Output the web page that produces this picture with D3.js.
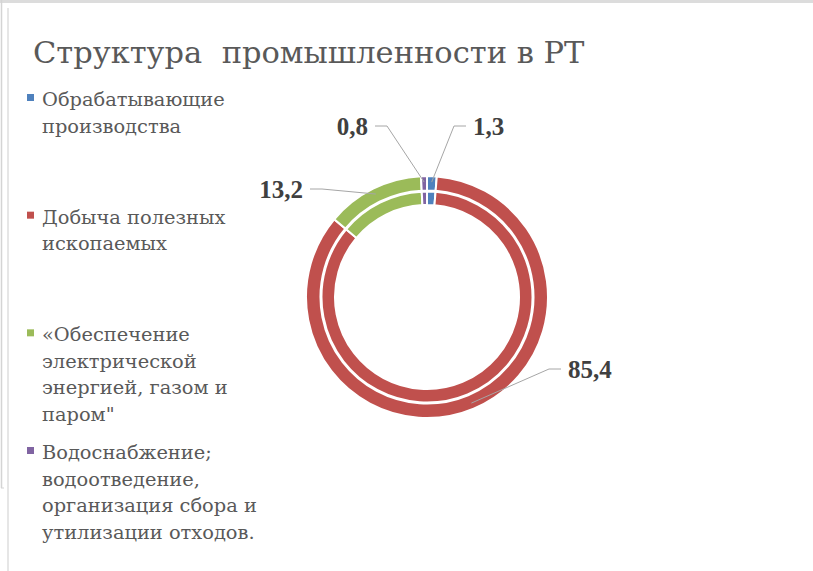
<!DOCTYPE html>
<html>
<head>
<meta charset="utf-8">
<script src="https://cdn.jsdelivr.net/npm/d3@7"></script>
<style>
    body { margin: 0; background: #fff; }
    svg { display: block; }
</style>
</head>
<body>
<div class="chart"></div>
<script>
// ------------------------------------------ data ------------------------------------------
const categories = [
    "Обрабатывающие производства",
    "Добыча полезных ископаемых",
    "«Обеспечение электрической энергией, газом и паром\"",
    "Водоснабжение; водоотведение, организация сбора и утилизации отходов."
];
// legend text wrapped the way the original shows it
const legendLines = [
    ["Обрабатывающие", "производства"],
    ["Добыча полезных", "ископаемых"],
    ["«Обеспечение", "электрической", "энергией, газом и", "паром\""],
    ["Водоснабжение;", "водоотведение,", "организация сбора и", "утилизации отходов."]
];
const values = [1.3, 85.4, 13.2, 0.8];
const valueLabels = ["1,3", "85,4", "13,2", "0,8"];
const colors = ["#4F81BD", "#C0504D", "#9BBB59", "#8064A2"];

// ------------------------------------------ layout ------------------------------------------
const W = 813, H = 571;
const cx = 427, cy = 297;
const serif = "'DejaVu Serif', 'Liberation Serif', serif";
// text anchor of each data label, relative to the centre
const labelPos = [[46, -162, "start"], [141, 81, "start"], [-124, -99, "end"], [-59, -162, "end"]];

const svg = d3.select(".chart")
    .append("svg")
    .attr("width", W)
    .attr("height", H);

// frame of the pasted picture
svg.append("rect").attr("x", 0).attr("y", 0).attr("width", W).attr("height", 3).attr("fill", "#dcdcdc");
svg.append("line").attr("x1", 1.5).attr("x2", 1.5).attr("y1", 0).attr("y2", 488)
    .attr("stroke", "#d4d4d4").attr("stroke-width", 1.5);
svg.append("line").attr("x1", 1).attr("x2", 4).attr("y1", 488).attr("y2", 488)
    .attr("stroke", "#d4d4d4").attr("stroke-width", 1);
svg.append("line").attr("x1", 8).attr("x2", 8).attr("y1", 8).attr("y2", H)
    .attr("stroke", "#dedede").attr("stroke-width", 1.5);

// title
svg.append("text")
    .attr("x", 33)
    .attr("y", 63)
    .attr("xml:space", "preserve")
    .style("white-space", "pre")
    .attr("font-family", serif)
    .attr("font-size", "30.5px")
    .attr("fill", "#595959")
    .text("Структура  промышленности в РТ");

// ------------------------------------------ legend ------------------------------------------
const yLegend = d3.scaleLinear().domain([0, categories.length - 1]).range([106, 459]);
const lineH = 26.5;

const legend = svg.append("g").attr("class", "legend");
const item = legend.selectAll("g")
    .data(categories)
    .join("g")
    .attr("transform", (d, i) => "translate(0," + yLegend(i) + ")");

item.append("rect")
    .attr("x", 27)
    .attr("y", -12)
    .attr("width", 7)
    .attr("height", 7)
    .attr("fill", (d, i) => colors[i]);

item.append("text")
    .attr("font-family", serif)
    .attr("font-size", "19.4px")
    .attr("fill", "#595959")
    .selectAll("tspan")
    .data((d, i) => legendLines[i])
    .join("tspan")
    .attr("x", 42)
    .attr("y", (d, j) => j * lineH)
    .text(d => d);

// ------------------------------------------ doughnut ------------------------------------------
const pie = d3.pie().sort(null).value(d => d);
const arcs = pie(values);

// two rings with the same series
const rings = [[106.5, 121], [92, 105.5]];

const g = svg.append("g").attr("transform", "translate(" + cx + "," + cy + ")");

rings.forEach(r => {
    const arc = d3.arc().innerRadius(r[0]).outerRadius(r[1]);
    g.append("g")
        .selectAll("path")
        .data(arcs)
        .join("path")
        .attr("d", arc)
        .attr("fill", (d, i) => colors[i])
        .attr("stroke", "#fff")
        .attr("stroke-width", 2)
        .attr("stroke-linejoin", "miter");
});

// data labels with leader lines
const leadArc = d3.arc().innerRadius(115).outerRadius(115);

arcs.forEach((a, i) => {
    const [dx, dy, anchor] = labelPos[i];
    const dir = anchor === "start" ? -1 : 1;
    const x0 = dx + dir * 7, y0 = dy - 9;
    const x1 = x0 + dir * 12;
    const end = leadArc.centroid(a);

    g.append("polyline")
        .attr("points", [[x0, y0], [x1, y0], end].map(p => p.join(",")).join(" "))
        .attr("fill", "none")
        .attr("stroke", "#a6a6a6")
        .attr("stroke-width", 1);

    g.append("text")
        .attr("x", dx)
        .attr("y", dy)
        .attr("text-anchor", anchor)
        .attr("font-family", "'Liberation Serif', 'Times New Roman', serif")
        .attr("font-weight", "bold")
        .attr("font-size", "25px")
        .attr("fill", "#404040")
        .text(valueLabels[i]);
});
</script>
</body>
</html>
